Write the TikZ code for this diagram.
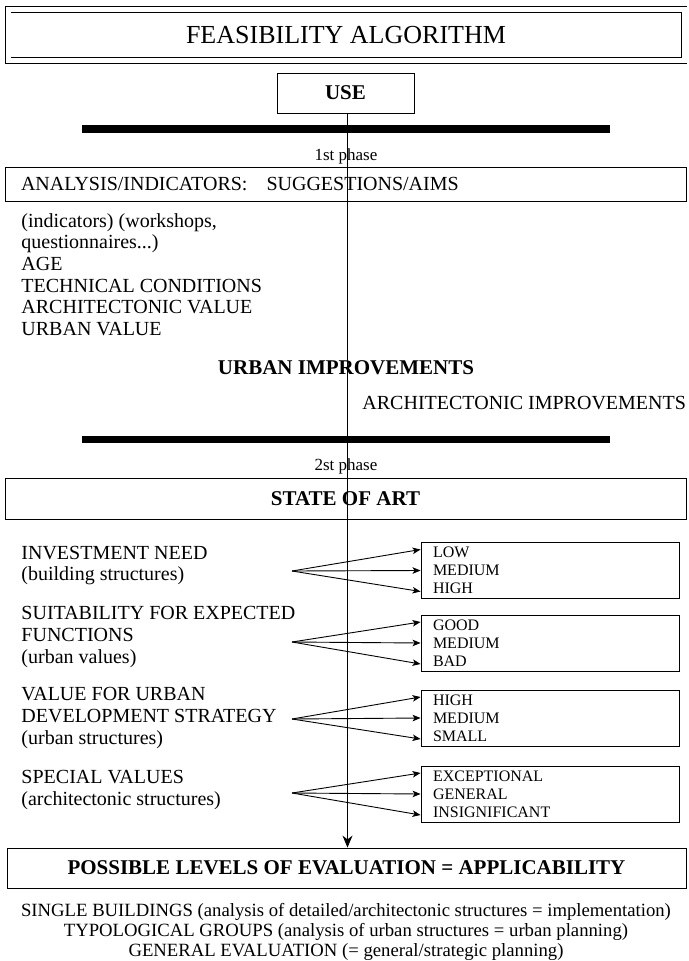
\documentclass[tikz,border=0pt]{standalone}
\usepackage{fontspec}
\setmainfont{Liberation Serif}
\usetikzlibrary{arrows.meta, positioning}
\tikzset{>={Stealth[length=8pt,width=6.5pt,inset=2pt]}}
\newcommand{\bodyfont}{\fontsize{20}{21.6}\selectfont}
\newcommand{\boldfont}{\fontsize{21}{23}\selectfont\bfseries}
\newcommand{\smallfont}{\fontsize{16}{18}\selectfont}
\tikzset{
  box/.style={draw, line width=0.9pt, inner sep=0pt},
  txt/.style={anchor=west, align=left, inner sep=0pt, font=\bodyfont},
  valbox/.style={box, minimum width=258pt, minimum height=56pt, text width=234pt, inner xsep=12pt, align=left, font=\smallfont}
}

\begin{document}
\begin{tikzpicture}[x=1pt, y=-1pt, line width=0.9pt]
			\useasboundingbox (0,0) rectangle (688,961);

			\node[draw, double, double distance=5pt, line width=0.9pt, minimum width=676pt, minimum height=51pt, font=\fontsize{26}{28}\selectfont] (title) at (346,35) {FEASIBILITY ALGORITHM};
			\node[box, minimum width=137pt, minimum height=40pt, font=\boldfont] (use) at (345.5,93) {USE};
			\draw[line width=7.5pt] (82,129) -- (610,129);
			\node[font=\fontsize{17}{19}\selectfont] (ph1) at (346,156) {1st phase};
			\node[box, minimum width=681pt, minimum height=34pt, text width=649pt, inner xsep=16pt, align=left, font=\bodyfont] (anal) at (345.5,184) {ANALYSIS/INDICATORS:\hspace{19pt}SUGGESTIONS/AIMS};

			\node[txt] (ind) at (21,274.5) {(indicators) (workshops,\\questionnaires...)\\AGE\\TECHNICAL CONDITIONS\\ARCHITECTONIC VALUE\\URBAN VALUE};
			\node[font=\boldfont] (urb) at (346,368) {URBAN IMPROVEMENTS};
			\node[txt] (arch) at (362,403) {ARCHITECTONIC IMPROVEMENTS};

			\draw[line width=7.5pt] (82,439.5) -- (610,439.5);
			\node[font=\fontsize{17}{19}\selectfont] (ph2) at (346,466) {2st phase};
			\node[box, minimum width=681pt, minimum height=41pt, font=\boldfont] (state) at (345.5,498.5) {STATE OF ART};

			\node[txt] (g1) at (21,565.5) {INVESTMENT NEED\\(building structures)};
			\node[txt] (g2) at (21,637) {SUITABILITY FOR EXPECTED\\FUNCTIONS\\(urban values)};
			\node[txt] (g3) at (21,718) {VALUE FOR URBAN\\DEVELOPMENT STRATEGY\\(urban structures)};
			\node[txt] (g4) at (21,790) {SPECIAL VALUES\\(architectonic structures)};

			\coordinate (f1) at (292,571);
			\coordinate (f2) at (292,642);
			\coordinate (f3) at (292,719);
			\coordinate (f4) at (292,793);

			\node[valbox] (v1) at (550,570.5) {LOW\\MEDIUM\\HIGH};
			\node[valbox] (v2) at (550,643) {GOOD\\MEDIUM\\BAD};
			\node[valbox] (v3) at (550,718) {HIGH\\MEDIUM\\SMALL};
			\node[valbox] (v4) at (550,794) {EXCEPTIONAL\\GENERAL\\INSIGNIFICANT};

			\foreach \i in {1,2,3,4}
			  \foreach \s in {-21,0,21}
			    \draw [->] (f\i) -- ([yshift=\s pt]v\i.west);

			\node[box, minimum width=679pt, minimum height=40pt, font=\boldfont] (poss) at (346.5,868) {POSSIBLE LEVELS OF EVALUATION = APPLICABILITY};
			\draw [-{Stealth[length=12pt,width=10pt]}] ([xshift=2pt]use.south) -- ([xshift=2pt]use.south |- poss.north);

			\node[align=center, inner sep=0pt, font=\fontsize{18.7}{20}\selectfont] (lvl) at (346,932) {SINGLE BUILDINGS (analysis of detailed/architectonic structures = implementation)\\TYPOLOGICAL GROUPS (analysis of urban structures = urban planning)\\GENERAL EVALUATION (= general/strategic planning)};

\end{tikzpicture}
\end{document}
